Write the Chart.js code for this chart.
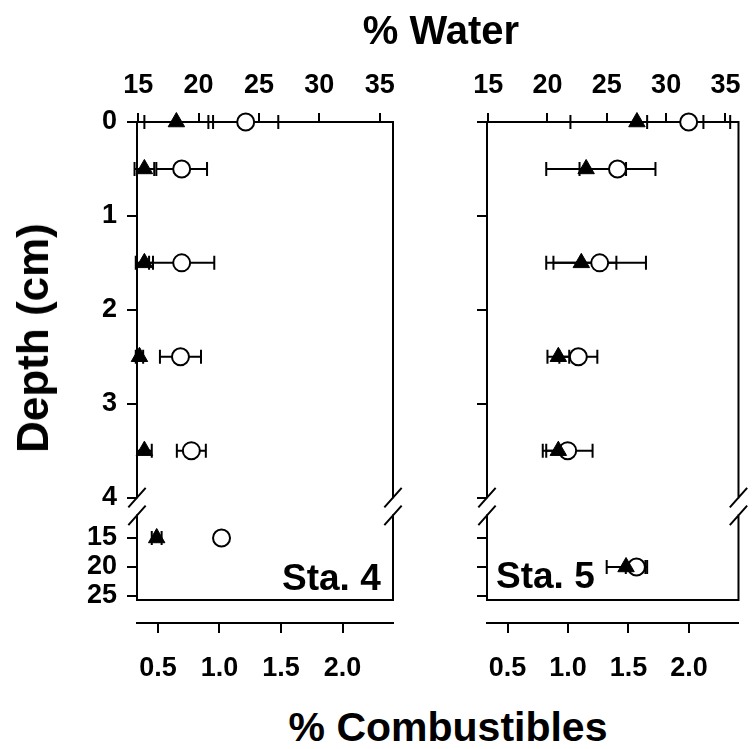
<!DOCTYPE html>
<html>
<head>
<meta charset="utf-8">
<script src="https://cdn.jsdelivr.net/npm/chart.js@4.4.1/dist/chart.umd.min.js"></script>
<style>
  body { margin: 0; background: #fff; }
  .figure {
    position: relative;
    width: 752px;
    height: 749px;
    background: #fff;
    font-family: 'Liberation Sans', Arial, sans-serif;
    font-weight: bold;
    color: #000;
    overflow: hidden;
  }
  .figure canvas { position: absolute; top: 0; }
  .title {
    position: absolute;
    font-size: 39px;
    line-height: 1;
    white-space: nowrap;
    transform: translate(-50%, -50%);
  }
  .station {
    position: absolute;
    font-size: 37px;
    line-height: 1;
    white-space: nowrap;
  }
</style>
</head>
<body>
<div class="figure">
  <canvas id="sta4" width="420" height="700" style="left: 0"></canvas>
  <canvas id="sta5" width="332" height="700" style="left: 420px"></canvas>
  <div class="title" style="left: 441px; top: 30px; font-size: 40px">% Water</div>
  <div class="title" style="left: 448px; top: 727px; font-size: 41px">% Combustibles</div>
  <div class="title" style="left: 33px; top: 338px; font-size: 44px; transform: translate(-50%, -50%) rotate(-90deg)">Depth (cm)</div>
  <div class="station" style="left: 282px; top: 559px">Sta. 4</div>
  <div class="station" style="left: 496px; top: 557px">Sta. 5</div>
</div>
<script>
// tick labels
const waterTicks = [15, 20, 25, 30, 35]
const combTicks = [0.5, 1.0, 1.5, 2.0]
const depthTicksUpper = [0, 1, 2, 3, 4]
const depthTicksLower = [15, 20, 25]

// Sta. 4  (circles = % water, triangles = % combustibles)
const sta4Depth = [0, 0.5, 1.5, 2.5, 3.5, 15]
const sta4Water = [23.9, 18.6, 18.6, 18.5, 19.4, 21.9]
const sta4WaterErr = [2.7, 2.1, 2.7, 1.7, 1.2, 0.3]
const sta4Comb = [0.65, 0.39, 0.39, 0.35, 0.39, 0.49]
const sta4CombErr = [0.26, 0.08, 0.07, 0.03, 0.06, 0.04]

// Sta. 5
const sta5Depth = [0, 0.5, 1.5, 2.5, 3.5, 20]
const sta5Water = [31.9, 25.9, 24.4, 22.6, 21.7, 27.5]
const sta5WaterErr = [3.5, 3.2, 3.9, 1.6, 2.1, 0.9]
const sta5Comb = [1.57, 1.15, 1.11, 0.92, 0.92, 1.48]
const sta5CombErr = [0.55, 0.33, 0.29, 0.09, 0.1, 0.16]

const BLACK = '#000'
const LOWER_START = 10   // depths from here go on the lower (broken) part of the axis
const UPPER_END = 4.0    // where the upper part of the depth axis stops
const LOWER_RESUME = 11.1  // where the lower part starts again
const FRAME_BOTTOM = 25.7

Chart.defaults.font.family = "'Liberation Sans', Arial, sans-serif"
Chart.defaults.font.weight = 'bold'
Chart.defaults.color = BLACK

function split(depths, values, errs, lower) {
  const data = []
  const errors = []
  depths.forEach((d, i) => {
    if ((d >= LOWER_START) === lower) {
      data.push({x: values[i], y: d})
      errors.push(errs[i])
    }
  })
  return {data, errors}
}

function makeDatasets(depth, water, waterErr, comb, combErr) {
  const triangles = []
  const circles = []
  ;[false, true].forEach(lower => {
    const yAxisID = lower ? 'yLow' : 'yUp'
    triangles.push({
      ...split(depth, comb, combErr, lower),
      xAxisID: 'xComb',
      yAxisID,
      pointStyle: 'triangle',
      pointRadius: 9.5,
      backgroundColor: BLACK,
      borderColor: BLACK,
      borderWidth: 1,
      clip: false
    })
    circles.push({
      ...split(depth, water, waterErr, lower),
      xAxisID: 'xWater',
      yAxisID,
      pointStyle: 'circle',
      pointRadius: 8.5,
      backgroundColor: '#fff',
      borderColor: BLACK,
      borderWidth: 2,
      clip: false
    })
  })
  // dataset 0 is painted last, so triangles go first to sit on top
  return triangles.concat(circles)
}

const brokenFrame = {
  id: 'brokenFrame',
  beforeDatasetsDraw(chart) {
    const {ctx, chartArea: {left, right}, scales: {yUp, yLow}} = chart
    const top = yUp.getPixelForValue(0)
    const breakTop = yUp.getPixelForValue(UPPER_END)
    const breakBottom = yLow.getPixelForValue(LOWER_RESUME)
    const bottom = yLow.getPixelForValue(FRAME_BOTTOM)
    ctx.save()
    ctx.strokeStyle = BLACK
    ctx.lineWidth = 2
    ctx.lineCap = 'square'
    ctx.beginPath()
    ;[left, right].forEach(x => {
      ctx.moveTo(x, top)
      ctx.lineTo(x, breakTop)
      ctx.moveTo(x, breakBottom)
      ctx.lineTo(x, bottom)
      ctx.moveTo(x - 8, breakTop + 9)
      ctx.lineTo(x + 8, breakTop - 9)
      ctx.moveTo(x - 8, breakBottom + 9)
      ctx.lineTo(x + 8, breakBottom - 9)
    })
    ctx.moveTo(left, bottom)
    ctx.lineTo(right, bottom)
    ctx.stroke()
    ctx.restore()
  }
}

const errorBars = {
  id: 'errorBars',
  beforeDatasetsDraw(chart) {
    const {ctx} = chart
    ctx.save()
    ctx.strokeStyle = BLACK
    ctx.lineWidth = 2
    chart.data.datasets.forEach((set, i) => {
      const meta = chart.getDatasetMeta(i)
      const xScale = chart.scales[set.xAxisID]
      set.data.forEach((p, j) => {
        const err = set.errors[j]
        if (!err) {
          return
        }
        const y = meta.data[j].y
        const x1 = xScale.getPixelForValue(p.x - err)
        const x2 = xScale.getPixelForValue(p.x + err)
        ctx.beginPath()
        ctx.moveTo(x1, y)
        ctx.lineTo(x2, y)
        ctx.moveTo(x1, y - 7)
        ctx.lineTo(x1, y + 7)
        ctx.moveTo(x2, y - 7)
        ctx.lineTo(x2, y + 7)
        ctx.stroke()
      })
    })
    ctx.restore()
  }
}

function fixedTicks(values) {
  return scale => {
    scale.ticks = values.map(value => ({value}))
  }
}

function makeScales(showDepthLabels, yWidth) {
  const font = {size: 27, weight: 'bold'}
  const grid = {drawOnChartArea: false, color: BLACK, lineWidth: 2}
  const yCommon = {
    type: 'linear',
    position: 'left',
    stack: 'depth',
    reverse: true,
    ticks: {display: showDepthLabels, font, padding: 10, autoSkip: false, callback: v => String(v)},
    grid: {...grid, tickLength: 10},
    border: {display: false},
    afterFit: scale => { scale.width = yWidth }
  }
  // the layout stacks left axes bottom-up, so the lower part is listed first
  return {
    xWater: {
      type: 'linear',
      position: 'top',
      min: 14.9,
      max: 36.1,
      afterBuildTicks: fixedTicks(waterTicks),
      ticks: {font, padding: 11, autoSkip: false, maxRotation: 0, callback: v => String(v)},
      grid: {...grid, tickLength: 9},
      border: {color: BLACK, width: 2},
      afterFit: scale => { scale.height = 122 }
    },
    xComb: {
      type: 'linear',
      position: 'bottom',
      min: 0.33,
      max: 2.41,
      afterBuildTicks: fixedTicks(combTicks),
      ticks: {font, padding: 19, autoSkip: false, maxRotation: 0, callback: v => v.toFixed(1)},
      grid: {...grid, tickLength: 10},
      border: {color: BLACK, width: 2},
      afterFit: scale => { scale.height = 77 }
    },
    yLow: {
      ...yCommon,
      stackWeight: 116,
      min: 9.66,
      max: 29.66,
      afterBuildTicks: fixedTicks(depthTicksLower)
    },
    yUp: {
      ...yCommon,
      stackWeight: 385,
      min: 0,
      max: 4.1,
      afterBuildTicks: fixedTicks(depthTicksUpper)
    }
  }
}

function makeChart(el, datasets, showDepthLabels, yWidth, padRight) {
  return new Chart(el, {
    type: 'scatter',
    data: {datasets},
    options: {
      responsive: false,
      animation: false,
      events: [],
      devicePixelRatio: 1,
      layout: {padding: {left: 0, right: padRight, top: 0, bottom: 0}},
      plugins: {legend: {display: false}, tooltip: {enabled: false}},
      scales: makeScales(showDepthLabels, yWidth)
    },
    plugins: [brokenFrame, errorBars]
  })
}

makeChart(
  document.getElementById('sta4'),
  makeDatasets(sta4Depth, sta4Water, sta4WaterErr, sta4Comb, sta4CombErr),
  true, 137, 27
)
makeChart(
  document.getElementById('sta5'),
  makeDatasets(sta5Depth, sta5Water, sta5WaterErr, sta5Comb, sta5CombErr),
  false, 67, 10
)
</script>
</body>
</html>
